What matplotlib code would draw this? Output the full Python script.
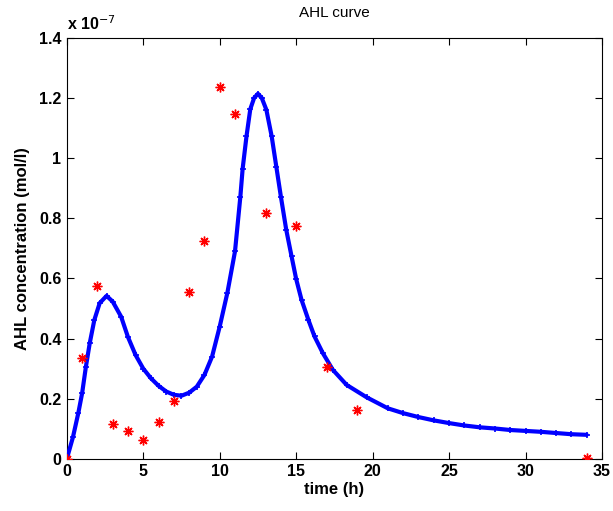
import numpy as np
import matplotlib
matplotlib.use("Agg")
import matplotlib.pyplot as plt
import matplotlib.ticker as ticker

plt.rcParams["font.family"] = ["Liberation Sans", "DejaVu Sans"]

# measured AHL concentration (units of 1e-7 mol/l)
T_MEAS = [0, 1, 2, 3, 4, 5, 6, 7, 8, 9, 10, 11, 13, 15, 17, 19, 34]
AHL_MEAS = [0.0, 0.335, 0.576, 0.116, 0.092, 0.062, 0.121, 0.194, 0.555,
            0.725, 1.236, 1.147, 0.817, 0.775, 0.305, 0.163, 0.002]

# model curve (units of 1e-7 mol/l)
T_MODEL = [0, 0.4, 0.75, 1, 1.25, 1.5, 1.8, 2.15, 2.6, 3, 3.55, 4, 4.5, 5,
           5.5, 6, 6.5, 7, 7.5, 8, 8.5, 9, 9.5, 10, 10.5, 11, 11.35, 11.5,
           11.75, 12, 12.25, 12.5, 12.75, 13.05, 13.4, 13.7, 14, 14.35, 14.7,
           15, 15.35, 15.8, 16.2, 16.75, 17.4, 18.3, 19.6, 21, 22, 23, 24,
           25, 26, 27, 28, 29, 30, 31, 32, 33, 34]
AHL_MODEL = [0.0, 0.072, 0.152, 0.218, 0.307, 0.385, 0.462, 0.518, 0.542,
             0.523, 0.473, 0.405, 0.345, 0.30, 0.268, 0.243, 0.224, 0.213,
             0.21, 0.22, 0.24, 0.279, 0.34, 0.44, 0.552, 0.69, 0.872, 0.965,
             1.072, 1.163, 1.2, 1.214, 1.2, 1.161, 1.072, 0.972, 0.872,
             0.762, 0.673, 0.598, 0.529, 0.462, 0.407, 0.351, 0.296, 0.246,
             0.205, 0.168, 0.152, 0.139, 0.128, 0.119, 0.111, 0.105, 0.101,
             0.096, 0.093, 0.09, 0.086, 0.082, 0.08]

SCALE = 1e-7
X_TICKS = [0, 5, 10, 15, 20, 25, 30, 35]
Y_TICKS = [0, 0.2, 0.4, 0.6, 0.8, 1.0, 1.2, 1.4]

fig = plt.figure(figsize=(6.13, 5.11), dpi=100)
ax = fig.add_axes([0.109, 0.102, 0.873, 0.824])

t_model = np.array(T_MODEL)
c_model = np.array(AHL_MODEL) * SCALE
ax.plot(t_model, c_model, color="#0000ff", linewidth=3.0,
        solid_capstyle="round", solid_joinstyle="round",
        marker="+", markersize=5, markeredgewidth=1.2, zorder=3)

ax.plot(T_MEAS, np.array(AHL_MEAS) * SCALE, linestyle="none",
        marker=(8, 2, 0), markersize=7, markeredgewidth=1.0,
        color="#ff0000", zorder=4)

ax.set_xlim(0, 35)
ax.set_ylim(0, 1.4 * SCALE)
ax.set_xticks(X_TICKS)
ax.set_yticks([v * SCALE for v in Y_TICKS])
ax.yaxis.set_major_formatter(ticker.FuncFormatter(lambda v, p: f"{v / SCALE:g}"))
ax.tick_params(direction="in", top=True, right=True, length=5, width=0.8,
               labelsize=11.5, pad=4)
for lab in ax.get_xticklabels() + ax.get_yticklabels():
    lab.set_fontweight("bold")
for s in ax.spines.values():
    s.set_linewidth(0.8)

ax.text(0.0, 1.012, r"x 10$^{-7}$", transform=ax.transAxes, ha="left",
        va="bottom", fontsize=11.5, fontweight="bold")
ax.set_title("AHL curve", fontsize=11, pad=15)
ax.set_xlabel("time (h)", fontsize=12, fontweight="bold", labelpad=2)
ax.set_ylabel("AHL concentration (mol/l)", fontsize=12, fontweight="bold",
              labelpad=6)

fig.savefig("out.png", dpi=100)
